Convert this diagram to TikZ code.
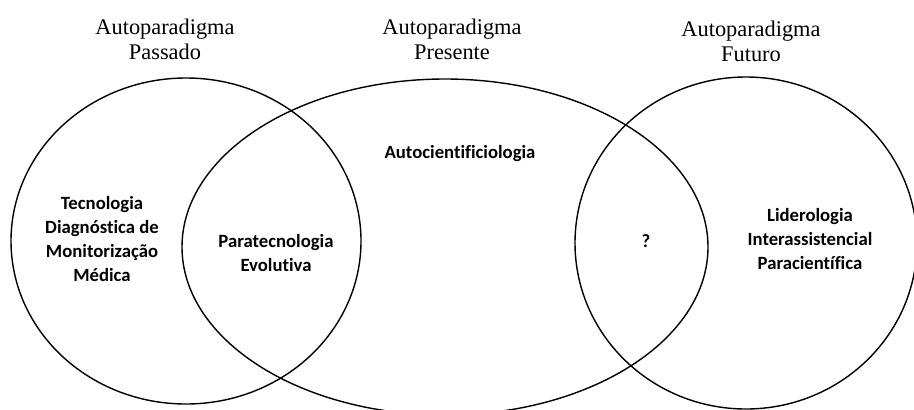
\documentclass[tikz,border=0pt]{standalone}
\usepackage{fontspec}
\setmainfont{Liberation Serif}
\newfontfamily\labelfont[Ligatures=NoCommon]{Carlito}
\tikzset{
  ring/.style={draw=black, line width=1pt},
  headlabel/.style={align=center, inner sep=0pt, font=\fontsize{15.9}{17.8}\selectfont},
  innerlabel/.style={align=center, inner sep=0pt, font=\labelfont\bfseries\fontsize{13.3}{17.3}\selectfont},
}

\begin{document}
\begin{tikzpicture}[x=0.025cm, y=-0.025cm]
\useasboundingbox (0,0) rectangle (914,409);
\clip (0,0) rectangle (914,409);
% the three paradigms
\draw[ring] (186,241) ellipse [x radius=175, y radius=163];
\draw[ring] (445,247) ellipse [x radius=263, y radius=168];
\draw[ring] (746,243) ellipse [x radius=171, y radius=166];
% titles
\node[headlabel] (passado) at (165,39) {Autoparadigma\\Passado};
\node[headlabel] (presente) at (452,39) {Autoparadigma\\Presente};
\node[headlabel] (futuro) at (751,41) {Autoparadigma\\Futuro};
% contents
\node[innerlabel] (tecnologia) at (102,239) {Tecnologia\\Diagnóstica de\\Monitorização\\Médica};
\node[innerlabel] (paratecnologia) at (276,253) {Paratecnologia\\Evolutiva};
\node[innerlabel] (autocientificiologia) at (460,154) {Autocientificiologia};
\node[innerlabel] (incognita) at (646,241) {?};
\node[innerlabel] (liderologia) at (810,239) {Liderologia\\Interassistencial\\Paracientífica};
\end{tikzpicture}
\end{document}
